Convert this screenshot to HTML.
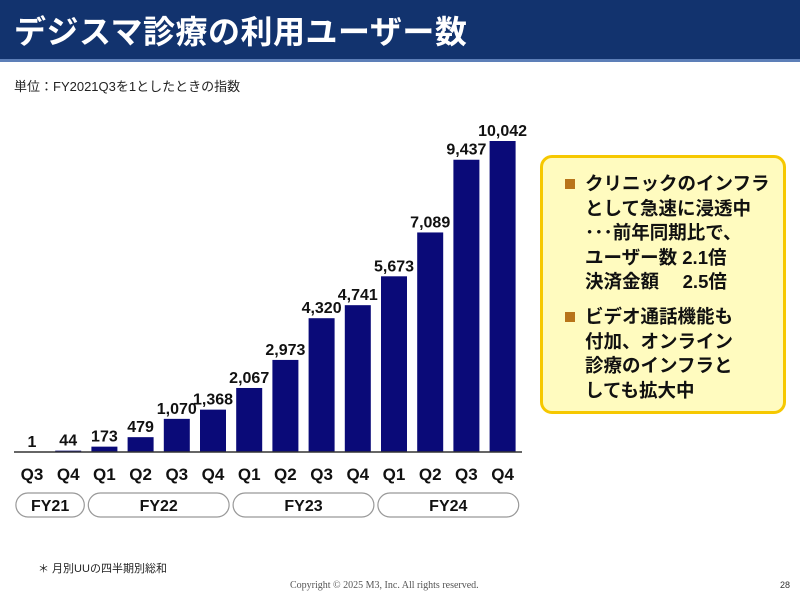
<!DOCTYPE html>
<html><head><meta charset="utf-8"><style>
body{margin:0;width:800px;height:594px;background:#fff;position:relative;overflow:hidden;font-family:"Liberation Sans","Noto Sans CJK JP",sans-serif}
#hdr{position:absolute;left:0;top:0;width:800px;height:59px;background:#12336e;border-bottom:3px solid #5d7fb8}
#title{position:absolute;left:14px;top:7px;color:#fff;font-size:32px;font-weight:bold;letter-spacing:0.5px}
#unit{position:absolute;left:14px;top:76px;font-size:13px;color:#222}
#box{position:absolute;left:540px;top:155px;width:246px;height:259px;background:#fffbbf;border:3px solid #f6c800;border-radius:12px;box-sizing:border-box}
.item{position:absolute;left:42px;font-size:18.5px;font-weight:bold;line-height:24.5px;color:#111;white-space:nowrap}
.bul{position:absolute;left:-20px;top:7px;width:10px;height:10px;background:#b8741a}
#note{position:absolute;left:38px;top:560px;font-size:11px;color:#222}
#copy{position:absolute;left:290px;top:580px;font-size:10px;color:#555;font-family:"Liberation Serif",serif}
#pg{position:absolute;left:780px;top:580px;font-size:9px;color:#333}
</style></head><body>
<div id="hdr"><div id="title">デジスマ診療の利用ユーザー数</div></div>
<div id="unit">単位：FY2021Q3を1としたときの指数</div>
<svg id="chart" width="800" height="594" style="position:absolute;left:0;top:0"></svg>
<div id="box">
<div class="item" style="top:14px"><span class="bul"></span>クリニックのインフラ<br>として急速に浸透中<br>･･･前年同期比で、<br>ユーザー数 2.1倍<br>決済金額　 2.5倍</div>
<div class="item" style="top:147px"><span class="bul"></span>ビデオ通話機能も<br>付加、オンライン<br>診療のインフラと<br>しても拡大中</div>
</div>
<div id="note">＊ 月別UUの四半期別総和</div>
<div id="copy">Copyright © 2025  M3, Inc.  All rights reserved.</div>
<div id="pg">28</div>
<script>
const quarters=["Q3","Q4","Q1","Q2","Q3","Q4","Q1","Q2","Q3","Q4","Q1","Q2","Q3","Q4"];
const values=[1,44,173,479,1070,1368,2067,2973,4320,4741,5673,7089,9437,10042];
const years=["FY21","FY22","FY23","FY24"];
const yearSpans=[2,4,4,4];
const svg=document.getElementById('chart');
const NS="http://www.w3.org/2000/svg";
const x0=32,step=36.2,bw=26,base=452,scale=311/10042;
const xc=i=>x0+i*step;
const yv=v=>base-v*scale;
function mk(t,a){const e=document.createElementNS(NS,t);for(const k in a)e.setAttribute(k,a[k]);svg.appendChild(e);return e;}
values.forEach((v,i)=>{
 const r=mk('rect',{x:xc(i)-bw/2,y:yv(v),width:bw,height:base-yv(v),fill:'#0a0a78'});
 
 
 const t=mk('text',{x:xc(i),y:yv(v)-5,'text-anchor':'middle','font-size':16,'font-weight':'bold',fill:'#111'});
 t.textContent=v.toLocaleString('en-US');
 
 
 const q=mk('text',{x:xc(i),y:480,'text-anchor':'middle','font-size':17,'font-weight':'bold',fill:'#111'});
 q.textContent=quarters[i];
 
 
});
const ax=mk('line',{x1:14,x2:522,y1:base,y2:base,stroke:'#333','stroke-width':1.5});


let start=0;
years.forEach((y,j)=>{
 const n=yearSpans[j];
 const l=xc(start)-step/2+2,r=xc(start+n-1)+step/2-2;
 const p=mk('rect',{x:l,y:493,width:r-l,height:24,rx:12,fill:'#fff',stroke:'#999','stroke-width':1.2});
 
 
 const t=mk('text',{x:(l+r)/2,y:511,'text-anchor':'middle','font-size':16,'font-weight':'bold',fill:'#111'});
 t.textContent=y;
 
 
 start+=n;
});
</script>
</body></html>
